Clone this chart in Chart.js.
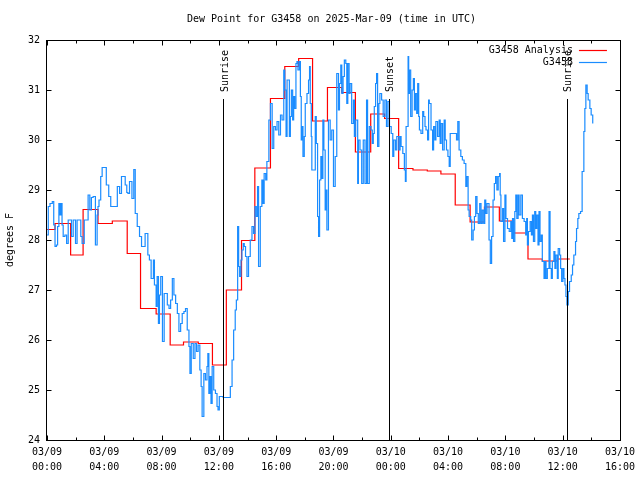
<!DOCTYPE html>
<html><head><meta charset="utf-8">
<script src="https://cdn.jsdelivr.net/npm/chart.js@4.4.1/dist/chart.umd.min.js"></script>
<style>html,body{margin:0;padding:0;background:#fff;}#wrap{width:640px;height:480px;}</style>
</head><body><div id="wrap"><canvas id="c" width="640" height="480"></canvas></div>
<script>
const chartTitle = 'Dew Point for G3458 on 2025-Mar-09 (time in UTC)';
const yAxisTitle = 'degrees F';
const xTickLabels = [['03/09','00:00'],['03/09','04:00'],['03/09','08:00'],['03/09','12:00'],['03/09','16:00'],['03/09','20:00'],['03/10','00:00'],['03/10','04:00'],['03/10','08:00'],['03/10','12:00'],['03/10','16:00']];
const yTickValues = [24,25,26,27,28,29,30,31,32];

const analysisLabel = 'G3458 Analysis';
const analysisHours = [0,0.56,1.65,2.52,3.56,4.56,5.6,6.53,7.62,8.6,9.53,10.56,11.55,12.52,13.58,14.51,15.6,16.6,17.57,18.54,19.58,20.58,21.53,22.6,23.57,24.55,25.55,26.55,27.5,28.5,29.54,30.54,31.58,32.57,33.58,34.58,35.63,36.5];
const analysisValues = [28.21,28.33,27.7,28.61,28.33,28.38,27.73,26.63,26.52,25.9,25.96,25.93,25.5,27.0,27.99,29.44,30.83,31.47,31.63,30.38,31.05,30.95,29.76,30.52,30.43,29.43,29.4,29.38,29.32,28.7,28.36,28.66,28.38,28.14,27.62,27.58,27.62,27.62];

const obsLabel = 'G3458';
const obsHours = [
0,0.09,0.21,0.37,0.47,0.56,0.66,0.74,0.83,0.9,0.97,1.05,1.13,1.25,1.37,1.48,1.6,1.71,1.83,1.99,2.1,2.25,2.36,2.45,2.6,2.75,2.87,2.99,3.1,3.22,3.38,3.5,3.56,3.63,3.75,3.85,3.95,4.14,4.31,4.45,4.7,4.84,4.91,5.07,5.2,5.3,5.46,5.57,5.65,5.76,5.93,6.06,6.16,6.3,6.46,6.6,6.75,6.85,7.04,7.15,7.27,7.43,7.5,7.62,7.69,7.78,
7.85,7.94,8.06,8.18,8.29,8.4,8.52,8.63,8.75,8.86,8.98,9.1,9.21,9.33,9.44,9.56,9.67,9.79,9.91,9.98,10.07,10.21,10.33,10.44,10.55,10.67,10.76,10.83,10.95,11.06,11.17,11.23,11.3,11.37,11.45,11.53,11.64,11.76,11.87,11.94,12.03,12.3,12.57,12.8,12.92,13.03,13.14,13.22,13.31,13.38,13.45,13.54,13.61,13.7,13.77,13.86,13.96,14.07,14.19,14.31,14.42,14.52,14.61,14.7,14.77,14.89,15.0,15.08,15.16,15.27,15.35,
15.49,15.6,15.72,15.83,15.95,16.06,16.18,16.3,16.41,16.53,16.6,16.69,16.76,16.88,16.92,16.99,17.06,17.15,17.22,17.29,17.38,17.45,17.52,17.62,17.69,17.75,17.8,17.87,17.96,18.03,18.15,18.26,18.33,18.38,18.45,18.49,18.61,18.73,18.8,18.89,18.96,19.03,19.12,19.19,19.26,19.33,19.42,19.47,19.54,19.65,19.77,19.88,20.0,20.12,20.23,20.35,20.42,20.51,20.58,20.67,20.76,20.86,20.93,21.0,21.09,21.16,21.27,21.39,21.46,21.55,21.69,21.74,21.85,21.97,22.08,22.2,22.31,22.38,22.5,22.62,22.71,22.78,22.85,22.94,23.01,23.08,23.17,23.24,23.36,23.47,23.59,23.7,
23.8,23.91,24.03,24.14,24.21,24.33,24.42,24.56,24.65,24.72,24.84,24.95,25.02,25.07,25.14,25.21,25.25,25.3,25.39,25.49,25.58,25.65,25.72,25.81,25.88,25.95,26.0,26.11,26.23,26.3,26.39,26.46,26.57,26.64,26.69,26.81,26.92,26.99,27.08,27.15,27.27,27.38,27.45,27.52,27.62,27.73,27.8,27.89,27.99,28.08,28.15,28.26,28.38,28.5,28.59,28.68,28.77,28.89,29.0,29.12,29.24,29.31,29.4,29.47,29.58,29.65,29.75,29.84,29.93,30.02,30.11,30.21,30.3,30.39,30.49,30.56,30.63,30.72,30.86,30.95,31.04,31.14,31.23,31.32,31.41,31.5,31.6,
31.64,31.69,31.81,31.875,31.97,32.04,32.15,32.27,32.38,32.45,32.5,32.57,32.66,32.73,32.8,32.89,32.96,33.08,33.19,33.31,33.42,33.49,33.54,33.61,33.73,33.82,33.89,33.96,34.05,34.12,34.19,34.28,34.35,34.42,34.51,34.58,34.7,34.77,34.84,34.93,35.05,35.12,35.21,35.28,35.39,35.46,35.53,35.63,35.69,35.79,35.86,35.93,36.02,36.09,36.16,36.23,36.3,36.39,36.48,36.6,36.69,36.78,36.9,36.97,37.06,37.13,37.25,37.36,37.48,37.55,37.62,37.71,37.78,37.9,37.99,38.1];
const obsValues = [
28.1,28.67,28.73,28.77,28.3,27.87,27.9,28.27,28.73,28.5,28.73,28.3,28.07,28.1,27.93,28.4,28.4,28.07,28.4,27.93,28.4,28.4,28.07,27.93,28.4,28.4,28.9,28.6,28.85,28.87,27.9,28.5,28.67,28.8,29.27,29.45,29.45,29.1,28.87,28.67,28.67,28.67,29.07,28.93,29.27,29.27,29.1,28.95,28.93,29.17,28.83,29.41,28.53,28.27,28.07,27.87,27.87,28.13,27.7,27.6,27.23,27.6,27.1,26.67,27.27,26.33,
26.9,27.27,25.97,26.93,26.93,26.7,26.63,26.8,27.23,26.9,26.73,26.53,26.17,26.33,26.53,26.57,26.63,26.2,25.87,25.33,25.93,25.63,25.93,25.77,25.9,25.4,25.07,24.47,25.33,25.2,25.47,25.73,24.93,25.27,24.73,25.47,25.0,24.93,24.67,24.6,24.87,24.85,24.85,25.07,25.6,26.2,26.6,26.8,28.27,27.47,27.27,27.6,27.8,27.93,27.87,27.67,27.27,27.67,28.0,28.27,28.13,28.67,28.47,29.07,27.47,28.67,29.2,28.73,29.33,29.2,29.57,
30.4,30.73,29.83,30.27,30.2,30.37,30.1,30.5,30.4,31.4,31.0,30.07,31.2,31.2,30.07,30.47,31.0,30.4,30.87,30.63,31.53,31.57,31.4,31.57,30.87,30.0,30.27,29.67,30.07,30.73,30.93,31.2,31.47,30.73,30.07,29.4,29.4,30.47,29.93,28.47,28.07,29.2,29.67,29.23,30.4,29.8,28.6,29.0,28.2,30.4,30.0,30.2,29.07,29.67,31.33,30.6,31.13,31.5,30.93,31.27,31.6,31.53,30.73,31.53,30.93,31.13,30.33,30.8,30.07,30.4,29.13,30.0,29.8,29.13,30.0,29.13,30.8,29.13,30.27,30.2,29.93,30.13,30.67,31.13,31.33,29.87,30.73,30.93,30.8,30.47,30.8,30.27,
30.77,30.27,30.13,29.67,30.0,29.8,30.07,29.8,30.07,29.87,29.73,29.4,29.17,30.27,30.27,31.67,30.93,31.4,30.47,31.0,31.23,30.6,30.93,30.53,31.13,30.47,30.2,30.13,30.57,30.47,30.27,30.2,30.0,30.8,30.73,30.2,29.8,30.27,30.0,30.37,30.07,30.4,29.93,30.33,29.8,30.4,30.0,29.8,29.67,29.47,30.13,30.13,30.13,30.13,30.0,30.37,29.8,29.67,29.6,29.53,29.07,29.27,28.6,28.47,28.4,28.0,28.2,28.47,28.87,28.53,28.33,28.73,28.33,28.6,28.33,28.8,28.53,28.73,28.0,27.53,28.07,28.8,29.13,29.27,29.0,29.27,29.33,
28.9,28.37,28.63,27.97,28.9,28.43,28.23,28.17,28.37,28.03,28.43,27.97,28.57,28.9,28.43,28.9,28.5,28.9,28.43,28.37,28.1,28.43,27.9,28.17,28.37,28.1,28.5,27.97,28.57,28.23,28.5,27.9,28.57,27.97,28.1,27.57,27.23,27.57,27.23,27.43,28.57,27.43,27.23,27.57,27.77,27.43,27.7,27.23,27.83,27.7,27.43,27.17,27.43,27.23,27.1,26.87,26.7,26.97,27.17,27.3,27.5,27.7,27.97,28.23,28.43,28.53,28.57,29.37,30.17,30.63,31.1,30.93,30.8,30.63,30.5,30.33];

const sunLabels = ['Sunrise','Sunset','Sunrise'];
const sunHours = [12.31, 23.86, 36.27];

const FONT = '"DejaVu Sans Mono","Liberation Mono",monospace';
const FS = 10;
const RED = '#ff0000';
const BLUE = '#1a8cff';

const gnuplotPlugin = {
  id: 'gnuplot',
  beforeDraw(chart) {
    const ctx = chart.ctx;
    ctx.save(); ctx.fillStyle = '#fff'; ctx.fillRect(0,0,chart.width,chart.height); ctx.restore();
  },
  afterDraw(chart) {
    const ctx = chart.ctx;
    const a = chart.chartArea;
    const xs = chart.scales.x, ys = chart.scales.y;
    ctx.save();
    ctx.strokeStyle = '#000';
    ctx.lineWidth = 1;
    const L = Math.round(a.left) - 0.5, R = Math.round(a.right) + 0.5, T = Math.round(a.top) + 0.5, B = Math.round(a.bottom) + 0.5;
    // ticks
    ctx.beginPath();
    for (let h = 0; h <= 40; h += 2) {
      const px = Math.round(xs.getPixelForValue(h)) + 0.5;
      const len = (h % 4 === 0) ? 5 : 3;
      ctx.moveTo(px, B); ctx.lineTo(px, B - len);
      ctx.moveTo(px, T); ctx.lineTo(px, T + len);
    }
    yTickValues.forEach(v => {
      const py = Math.round(ys.getPixelForValue(v)) + 0.5;
      ctx.moveTo(L, py); ctx.lineTo(L + 5, py);
      ctx.moveTo(R, py); ctx.lineTo(R - 5, py);
    });
    ctx.stroke();
    // sun lines
    ctx.beginPath();
    sunHours.forEach(h => {
      const px = Math.round(xs.getPixelForValue(h)) + 0.5;
      ctx.moveTo(px, B); ctx.lineTo(px, a.top + (a.bottom - a.top) * 0.1475);
    });
    ctx.stroke();
    ctx.font = FS + 'px ' + FONT;
    ctx.fillStyle = '#000';
    sunHours.forEach((h, i) => {
      const px = xs.getPixelForValue(h);
      ctx.save();
      ctx.translate(px + 2, a.top + (a.bottom - a.top) * 0.13);
      ctx.rotate(-Math.PI / 2);
      ctx.textAlign = 'left'; ctx.textBaseline = 'middle';
      ctx.fillText(sunLabels[i], 0, 0);
      ctx.restore();
    });
    // border
    ctx.strokeRect(L, T, R - L, B - T);
    // legend
    const items = [[analysisLabel, RED], [obsLabel, BLUE]];
    items.forEach((it, i) => {
      const y = a.top + 10 + i * 12;
      ctx.textAlign = 'right'; ctx.textBaseline = 'middle';
      ctx.fillStyle = '#000';
      ctx.fillText(it[0], a.right - 47, y);
      ctx.strokeStyle = it[1];
      ctx.lineWidth = 1.2;
      ctx.beginPath();
      ctx.moveTo(a.right - 41, Math.round(y) + 0.5); ctx.lineTo(a.right - 13, Math.round(y) + 0.5);
      ctx.stroke();
    });
    // title
    ctx.fillStyle = '#000';
    ctx.textAlign = 'center'; ctx.textBaseline = 'middle';
    ctx.fillText(chartTitle, (a.left + a.right) / 2 - 2, 19);
    ctx.restore();
  }
};

new Chart(document.getElementById('c'), {
  type: 'line',
  data: {
    datasets: [
      { label: analysisLabel, data: analysisHours.map((h, i) => ({x: h, y: analysisValues[i]})), borderColor: RED, borderWidth: 1.2, pointRadius: 0, stepped: true, fill: false, order: 1 },
      { label: obsLabel, data: obsHours.map((h, i) => ({x: h, y: obsValues[i]})), borderColor: BLUE, borderWidth: 1.2, pointRadius: 0, stepped: true, fill: false, order: 0 }
    ]
  },
  options: {
    responsive: false,
    animation: false,
    events: [],
    layout: { padding: { top: 40, right: 18, left: 0, bottom: 0 } },
    plugins: { legend: { display: false }, tooltip: { enabled: false }, title: { display: false } },
    scales: {
      x: {
        type: 'linear', min: 0, max: 40,
        afterFit(s) { s.height = 40; },
        afterBuildTicks(s) { s.ticks = xTickLabels.map((l, i) => ({value: i * 4})); },
        grid: { display: false, drawTicks: false },
        border: { display: false },
        ticks: { autoSkip: false, maxRotation: 0, minRotation: 0, padding: 5, color: '#000', font: { family: FONT, size: FS, lineHeight: 1.5 },
          callback: (v) => xTickLabels[Math.round(v / 4)] }
      },
      y: {
        min: 24, max: 32,
        afterFit(s) { s.width = 47; },
        afterBuildTicks(s) { s.ticks = yTickValues.map(v => ({value: v})); },
        grid: { display: false, drawTicks: false },
        border: { display: false },
        ticks: { padding: 7, color: '#000', font: { family: FONT, size: FS }, callback: (v) => String(v) },
        title: { display: true, text: yAxisTitle, color: '#000', font: { family: FONT, size: FS }, padding: { top: 4, bottom: 0 } }
      }
    }
  },
  plugins: [gnuplotPlugin]
});
</script></body></html>
